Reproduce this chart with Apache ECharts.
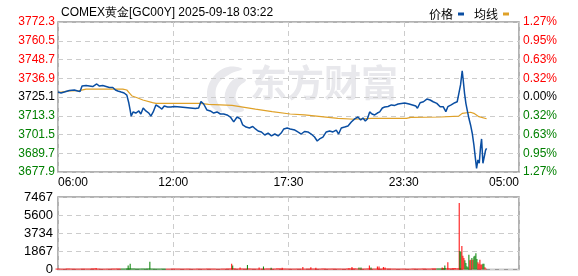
<!DOCTYPE html>
<html><head><meta charset="utf-8">
<script src="https://cdn.jsdelivr.net/npm/echarts@6/dist/echarts.min.js"></script>
<style>html,body{margin:0;padding:0;background:#fff}#c{width:578px;height:276px}</style>
</head><body><div id="c"></div>
<script>
const titleText = 'COMEX黄金[GC00Y] 2025-09-18 03:22';
const legendNames = ['价格', '均线'];
const timeLabels = ['06:00', '12:00', '17:30', '23:30', '05:00'];
const priceLabels = ['3677.9', '3689.7', '3701.5', '3713.3', '3725.1', '3736.9', '3748.7', '3760.5', '3772.3'];
const pctLabels = ['1.27%', '0.95%', '0.63%', '0.32%', '0.00%', '0.32%', '0.63%', '0.95%', '1.27%'];
const volLabels = ['0', '1867', '3734', '5600', '7467'];
const preClose = 3725.1;
const priceStep = 11.8;
const volMax = 7467;
const sessionMinutes = 1380;

// minutes since 06:00
const priceTimes = [0,9,19,34,49,59,66,72,84,94,104,116,124,134,144,154,164,172,179,189,198,206,212,216,219,225,233,242,248,255,263,272,278,285,293,303,311,318,328,338,348,366,381,396,411,421,428,436,446,456,466,476,486,496,506,516,526,536,546,553,563,573,583,591,599,609,619,629,639,649,659,668,676,686,695,709,718,728,738,748,758,768,776,783,793,803,813,823,833,840,848,858,868,878,888,898,906,913,920,926,933,940,948,956,963,971,978,988,998,1008,1018,1028,1038,1051,1061,1071,1076,1084,1094,1104,1114,1123,1134,1144,1153,1161,1167,1177,1188,1195,1200,1205,1210,1213,1217,1221,1225,1230,1235,1240,1245,1250,1253,1257,1261,1265,1268,1272,1276,1280,1283];
const prices = [3728.2,3727.6,3728.2,3729.2,3729.5,3728.9,3728.6,3732.0,3732.3,3732.0,3731.7,3733.3,3732.0,3732.3,3731.7,3731.1,3731.1,3729.5,3728.9,3728.2,3727.6,3726.3,3721.3,3716.9,3713.1,3715.7,3715.0,3716.3,3714.4,3718.2,3716.3,3715.0,3713.1,3715.7,3720.1,3718.8,3717.5,3719.4,3718.8,3718.8,3719.1,3718.8,3718.5,3718.2,3717.9,3718.2,3722.3,3720.7,3716.9,3716.3,3715.0,3715.7,3714.4,3714.4,3713.8,3712.5,3709.4,3712.5,3711.3,3707.5,3706.2,3705.6,3706.5,3705.0,3703.7,3703.1,3701.2,3702.4,3700.6,3701.8,3700.6,3702.4,3705.0,3705.6,3705.0,3704.3,3703.1,3701.8,3703.4,3703.1,3701.8,3699.9,3697.4,3698.7,3699.9,3703.1,3703.7,3703.1,3704.3,3701.8,3705.6,3706.2,3706.9,3709.4,3711.3,3712.5,3710.6,3711.9,3710.0,3711.3,3715.7,3714.4,3713.8,3715.0,3715.7,3718.2,3718.8,3719.1,3720.1,3719.8,3720.7,3721.0,3721.3,3720.7,3720.1,3719.4,3718.0,3721.5,3722.1,3723.8,3723.2,3722.1,3721.1,3719.0,3719.0,3715.9,3719.0,3720.1,3721.5,3722.1,3727.4,3732.7,3741.6,3735.8,3727.4,3721.1,3716.9,3711.7,3707.5,3702.3,3694.9,3685.5,3680.2,3685.5,3683.4,3693.8,3698.7,3683.4,3687.5,3691.7,3692.8];

const avgTimes = [0,34,64,84,194,206,214,222,239,254,283,293,426,451,521,591,641,695,738,788,838,888,938,1043,1056,1146,1200,1210,1235,1245,1260,1283];
const avgPrices = [3727.8,3728.9,3729.1,3730.1,3730.1,3729.5,3727.6,3725.7,3724.5,3723.2,3721.6,3721.1,3721.1,3720.4,3719.8,3717.5,3715.9,3714.4,3713.8,3712.7,3711.6,3711.1,3711.7,3711.7,3712.3,3712.5,3713.1,3714.8,3715.5,3714.8,3712.7,3711.4];

// notable volume bars (minute, volume, direction 1=up red / 0=down green)
const volTimes = [114,210,216,275,520,523,545,567,602,615,638,671,733,757,772,871,880,901,907,932,937,956,961,974,979,1150,1153,1158,1167,1201,1203,1206,1209,1212,1215,1218,1221,1224,1227,1230,1233,1236,1239,1242,1245,1248,1251,1254,1257,1260,1263,1266,1269,1272,1275,1278,1281];
const volValues = [150,404,605,807,605,404,200,470,200,300,170,170,270,235,170,135,270,200,200,404,200,300,300,270,200,200,134,404,740,6861,1917,1816,2422,1413,1180,940,673,336,236,1514,940,1009,1180,1009,1345,1413,1682,1076,740,605,1009,505,505,605,605,236,100];
const volDirs = [1,0,0,0,1,0,1,0,1,0,0,1,1,1,1,1,1,0,0,1,0,1,1,1,1,1,1,0,1,1,0,0,1,1,1,0,0,0,0,0,1,1,0,1,0,0,0,0,1,1,1,1,1,0,0,1,1];

// background small volume every 15 minutes
const baseTimes = [0,15,30,45,60,75,90,105,120,135,150,165,180,195,210,225,240,255,270,285,300,315,330,345,360,375,390,405,420,435,450,465,480,495,510,525,540,555,570,585,600,615,630,645,660,675,690,705,720,735,750,765,780,795,810,825,840,855,870,885,900,915,930,945,960,975,990,1005,1020,1035,1050,1065,1080,1095,1110,1125,1140,1155,1170,1185,1200];
const baseValues = [90,80,100,90,85,95,90,110,90,80,85,95,100,90,110,100,90,95,100,90,85,90,80,95,90,85,90,80,90,85,95,90,80,90,100,110,90,95,100,90,85,95,100,90,110,95,90,85,90,80,95,90,85,100,90,95,90,85,100,110,95,90,100,85,90,95,100,90,85,90,80,95,90,100,90,110,100,120,110,130,110];
const baseDirs = [1,1,1,1,1,1,1,1,1,1,1,1,1,0,0,0,0,0,0,0,0,0,1,1,1,1,1,1,1,1,1,1,1,1,1,1,1,1,1,1,1,1,1,1,1,1,1,1,1,1,1,1,1,1,1,1,1,1,1,1,1,1,1,1,1,1,1,1,1,1,1,1,1,1,1,1,0,0,1,1,1];

const RED = '#ff0000', GREEN = '#008000', BLUE = '#0a4ea2', ORANGE = '#dfa128';
const toUnit = p => (p - preClose) / priceStep;
const priceData = priceTimes.map((t, i) => [t, toUnit(prices[i])]);
const avgData = avgTimes.map((t, i) => [t, toUnit(avgPrices[i])]);
const volData = volTimes.map((t, i) => ({ value: [t, volValues[i]], itemStyle: { color: volDirs[i] ? RED : GREEN } }));
const baseData = baseTimes.map((t, i) => ({ value: [t, baseValues[i]], itemStyle: { color: baseDirs[i] ? RED : GREEN } }));

const dash = { show: true, lineStyle: { color: '#cccccc', type: [5, 4], width: 1 } };
const lblColor = v => { const n = Number(v); return Math.abs(n) < 1e-6 ? '#000' : (n > 0 ? RED : GREEN); };
const font = 'Liberation Sans, Arial, sans-serif';
const WM = '#e8e8ec';

const chart = echarts.init(document.getElementById('c'), null, { renderer: 'canvas' });
chart.setOption({
  animation: false,
  backgroundColor: '#fff',
  title: { text: titleText, left: 56, top: 2, textStyle: { fontSize: 12, fontWeight: 'normal', color: '#000', fontFamily: font } },
  legend: {
    data: legendNames, right: 64, top: 3, align: 'right', icon: 'rect', itemWidth: 6, itemHeight: 3, itemGap: 10,
    textStyle: { fontSize: 12, color: '#000', fontFamily: 'Noto Sans CJK SC' }
  },
  graphic: [
    { type: 'polygon', silent: true, z: 0,
      shape: { points: [[228, 67], [214, 76], [207, 92], [211, 106], [222, 112], [216, 98], [218, 84], [230, 74], [242, 69]], smooth: 0.4 },
      style: { fill: WM } },
    { type: 'polygon', silent: true, z: 0,
      shape: { points: [[236, 78], [226, 90], [226, 104], [234, 112], [244, 110], [236, 100], [238, 88], [246, 80]], smooth: 0.4 },
      style: { fill: WM } },
    { type: 'text', left: 250, top: 64, silent: true, z: 0,
      style: { text: '东方财富', fontSize: 37, fontWeight: 'bold', fill: WM, fontFamily: 'Noto Sans CJK SC' } }
  ],
  grid: [
    { left: 58, top: 22, width: 461, height: 150, show: true, borderColor: '#999', borderWidth: 1.5, backgroundColor: 'transparent' },
    { left: 58, top: 197, width: 461, height: 73, show: true, borderColor: '#999', borderWidth: 1.5, backgroundColor: 'transparent' }
  ],
  xAxis: [
    { type: 'value', gridIndex: 0, min: 0, max: sessionMinutes, interval: sessionMinutes / 4,
      axisLine: { show: false }, axisTick: { show: false }, splitLine: dash,
      axisLabel: { show: true, margin: 5, fontSize: 12, color: '#000', fontFamily: font, alignMinLabel: 'left', alignMaxLabel: 'right',
        formatter: v => timeLabels[Math.round(v / (sessionMinutes / 4))] } },
    { type: 'value', gridIndex: 1, min: 0, max: sessionMinutes, interval: sessionMinutes / 4,
      axisLine: { show: false }, axisTick: { show: false }, splitLine: dash, axisLabel: { show: false } },
    { type: 'value', gridIndex: 1, min: 0, max: sessionMinutes, show: false }
  ],
  yAxis: [
    { type: 'value', gridIndex: 0, min: -4, max: 4, interval: 1, position: 'left',
      axisLine: { show: false }, axisTick: { show: false }, splitLine: dash,
      axisLabel: { margin: 3, fontSize: 12, fontFamily: font, color: lblColor, formatter: v => priceLabels[Math.round(v) + 4] } },
    { type: 'value', gridIndex: 0, min: -4, max: 4, interval: 1, position: 'right',
      axisLine: { show: false }, axisTick: { show: false }, splitLine: { show: false },
      axisLabel: { margin: 4, fontSize: 12, fontFamily: font, color: lblColor, formatter: v => pctLabels[Math.round(v) + 4] } },
    { type: 'value', gridIndex: 1, min: 0, max: volMax, interval: volMax / 4,
      axisLine: { show: false }, axisTick: { show: false }, splitLine: dash,
      axisLabel: { margin: 5, fontSize: 13, fontFamily: font, color: '#000', formatter: v => volLabels[Math.round(v / (volMax / 4))] } }
  ],
  series: [
    { name: legendNames[0], type: 'line', xAxisIndex: 0, yAxisIndex: 0, data: priceData, showSymbol: false, symbol: 'none',
      lineStyle: { color: BLUE, width: 1.5 }, itemStyle: { color: BLUE }, z: 4 },
    { name: legendNames[1], type: 'line', xAxisIndex: 0, yAxisIndex: 0, data: avgData, showSymbol: false, symbol: 'none',
      lineStyle: { color: ORANGE, width: 1.2 }, itemStyle: { color: ORANGE }, z: 3 },
    { type: 'bar', xAxisIndex: 2, yAxisIndex: 2, data: baseData, barWidth: 5, z: 2 },
    { type: 'bar', xAxisIndex: 1, yAxisIndex: 2, data: volData, barWidth: 1, z: 3 }
  ]
});
</script></body></html>
